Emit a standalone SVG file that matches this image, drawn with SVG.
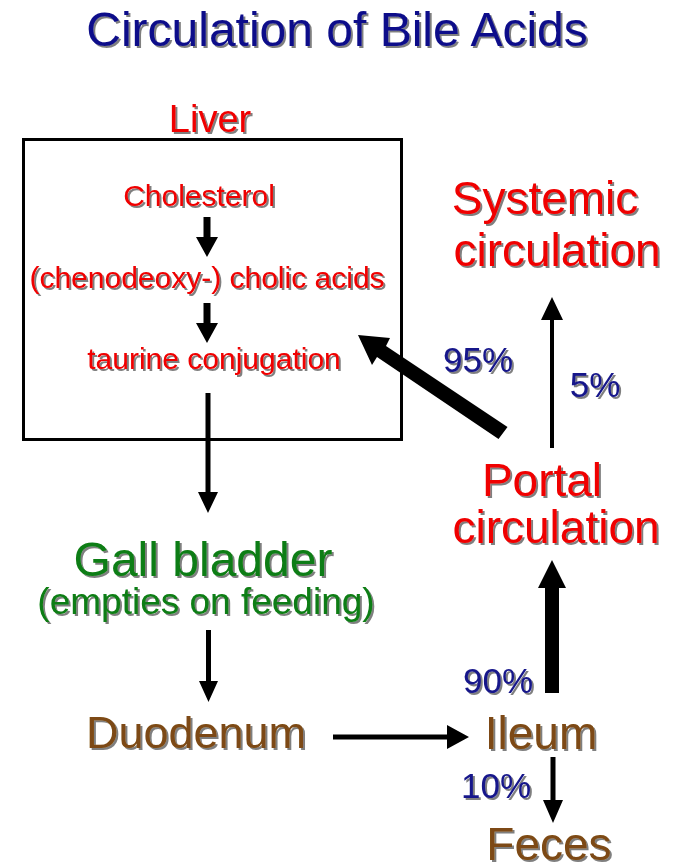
<svg xmlns="http://www.w3.org/2000/svg" width="681" height="866" viewBox="0 0 681 866">
<defs>
<filter id="sh" x="-10%" y="-20%" width="130%" height="150%">
<feDropShadow dx="2" dy="2" stdDeviation="0.7" flood-color="#000" flood-opacity="0.5"/>
</filter>
</defs>
<style>
text{font-family:"Liberation Sans",Arial,sans-serif;text-anchor:middle;filter:url(#sh)}
.navy{fill:#0c0c8a}
.red{fill:#f00000}
.green{fill:#0a7d12}
.brown{fill:#7d4a12}
.pct{fill:#14148a;font-size:35px}
.arr{fill:#000}
</style>
<rect width="681" height="866" fill="#fff"/>
<g id="title"><text x="337" y="46" class="navy" font-size="48">Circulation of Bile Acids</text></g>
<g id="liver">
<rect x="23.5" y="139.5" width="378" height="300" fill="none" stroke="#000" stroke-width="3"/>
<text x="210" y="132" class="red" font-size="38">Liver</text>
</g>
<g id="cholesterol"><text x="199" y="206" class="red" font-size="30">Cholesterol</text></g>
<g id="cholic"><text x="207" y="288" class="red" font-size="30">(chenodeoxy-) cholic acids</text></g>
<g id="taurine"><text x="214" y="369" class="red" font-size="30">taurine conjugation</text></g>
<g id="gallbladder">
<text x="203" y="576" class="green" font-size="48">Gall bladder</text>
<text x="206" y="614" class="green" font-size="37">(empties on feeding)</text>
</g>
<g id="duodenum"><text x="196" y="748" class="brown" font-size="45">Duodenum</text></g>
<g id="ileum"><text x="541" y="749" class="brown" font-size="46">Ileum</text></g>
<g id="feces"><text x="549" y="860" class="brown" font-size="46">Feces</text></g>
<g id="portal">
<text x="542" y="496" class="red" font-size="46">Portal</text>
<text x="556" y="543" class="red" font-size="46">circulation</text>
</g>
<g id="systemic">
<text x="545" y="214" class="red" font-size="46">Systemic</text>
<text x="557" y="266" class="red" font-size="46">circulation</text>
</g>
<g id="connectors">
<polygon class="arr" points="203.5,217 210.5,217 210.5,237 218,237 207,257 196,237 203.5,237"/>
<polygon class="arr" points="203.5,303 210.5,303 210.5,323 218,323 207,343 196,323 203.5,323"/>
<polygon class="arr" points="205.5,393 210.5,393 210.5,492 218,492 208,513 198,492 205.5,492"/>
<polygon class="arr" points="206,630 211,630 211,681 218,681 208.5,702 199,681 206,681"/>
<polygon class="arr" points="333,734.5 447,734.5 447,725 469,737 447,749 447,739.5 333,739.5"/>
<polygon class="arr" points="545,693 559,693 559,588 566,588 552,560 538,588 545,588"/>
<polygon class="arr" points="550.5,757 555.5,757 555.5,800 563,800 553,823 543,800 550.5,800"/>
<polygon class="arr" points="550,448 554,448 554,320 563,320 552,297 541,320 550,320"/>
<polygon class="arr" points="507.5,427 498.5,439 377,357 372,365 358,335 390,338 386,346 507.5,427"/>
<text x="478" y="372" class="pct">95%</text>
<text x="595" y="397" class="pct">5%</text>
<text x="498" y="693" class="pct">90%</text>
<text x="496" y="798" class="pct">10%</text>
</g>
</svg>
